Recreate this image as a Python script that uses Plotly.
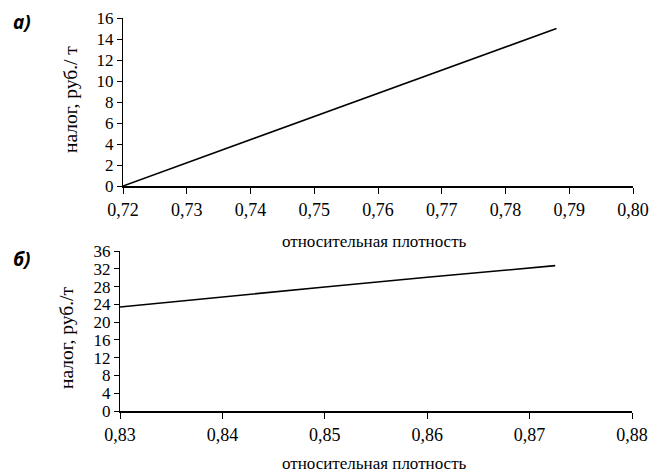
import plotly.graph_objects as go

# Panel a)
density_a = [0.72, 0.73, 0.74, 0.75, 0.76, 0.77, 0.78, 0.788]
tax_a = [0.0, 2.2, 4.4, 6.6, 8.8, 11.0, 13.2, 15.0]
xticks_a = [0.72, 0.73, 0.74, 0.75, 0.76, 0.77, 0.78, 0.79, 0.80]
xtext_a = ["0,72", "0,73", "0,74", "0,75", "0,76", "0,77", "0,78", "0,79", "0,80"]
yticks_a = [0, 2, 4, 6, 8, 10, 12, 14, 16]

# Panel б)
density_b = [0.83, 0.84, 0.85, 0.86, 0.87, 0.8725]
tax_b = [23.4, 25.7, 27.9, 30.1, 32.2, 32.7]
xticks_b = [0.83, 0.84, 0.85, 0.86, 0.87, 0.88]
xtext_b = ["0,83", "0,84", "0,85", "0,86", "0,87", "0,88"]
yticks_b = [0, 4, 8, 12, 16, 20, 24, 28, 32, 36]

xtitle = "относительная плотность"
ytitle_a = "налог, руб./ т"
ytitle_b = "налог, руб./т"

SERIF = "Times New Roman"
W, H = 663, 472

fig = go.Figure()
fig.add_trace(go.Scatter(x=density_a, y=tax_a, mode="lines",
                         line=dict(color="black", width=1.6),
                         xaxis="x", yaxis="y", showlegend=False))
fig.add_trace(go.Scatter(x=density_b, y=tax_b, mode="lines",
                         line=dict(color="black", width=1.6),
                         xaxis="x2", yaxis="y2", showlegend=False))

def px(x):
    return x / W

def py(y):
    return 1 - y / H

def axis_common(lw, tl, fs):
    return dict(showgrid=False, zeroline=False, showline=True, linecolor="black",
                linewidth=lw, ticks="outside", ticklen=tl, tickwidth=1,
                tickcolor="black", fixedrange=True, automargin=False,
                tickfont=dict(family=SERIF, size=fs, color="black"))

fig.update_layout(
    width=W, height=H,
    margin=dict(l=0, r=0, t=0, b=0),
    font=dict(family=SERIF, color="black"),
    paper_bgcolor="white", plot_bgcolor="white",
    xaxis=dict(axis_common(2, 6, 18), domain=[px(123), px(633)], anchor="y",
               range=[0.72, 0.80], tickvals=xticks_a, ticktext=xtext_a),
    yaxis=dict(axis_common(1.3, 5, 17), domain=[py(186), py(18)], anchor="x",
               range=[0, 16], tickvals=yticks_a),
    xaxis2=dict(axis_common(2, 6, 18), domain=[px(120), px(632)], anchor="y2",
                range=[0.83, 0.88], tickvals=xticks_b, ticktext=xtext_b),
    yaxis2=dict(axis_common(1.3, 5, 17), domain=[py(411), py(251)], anchor="x2",
                range=[0, 36], tickvals=yticks_b),
)

def tf(size):
    return dict(family=SERIF, size=size, color="black")

def lf():
    return dict(family="Open Sans", size=19, color="black")

ann = [
    dict(x=px(374), y=py(242), text=xtitle, font=tf(17)),
    dict(x=px(374), y=py(463), text=xtitle, font=tf(17)),
    dict(x=px(70), y=py(100), text=ytitle_a, font=tf(19.5), textangle=-90),
    dict(x=px(66), y=py(338), text=ytitle_b, font=tf(19.5), textangle=-90),
    dict(x=px(22), y=py(22), text="<b><i>а)</i></b>", font=lf()),
    dict(x=px(22), y=py(259), text="<b><i>б)</i></b>", font=lf()),
]
for a in ann:
    a.update(xref="paper", yref="paper", showarrow=False,
             xanchor="center", yanchor="middle")
fig.update_layout(annotations=ann)

fig.write_html("out.html")
